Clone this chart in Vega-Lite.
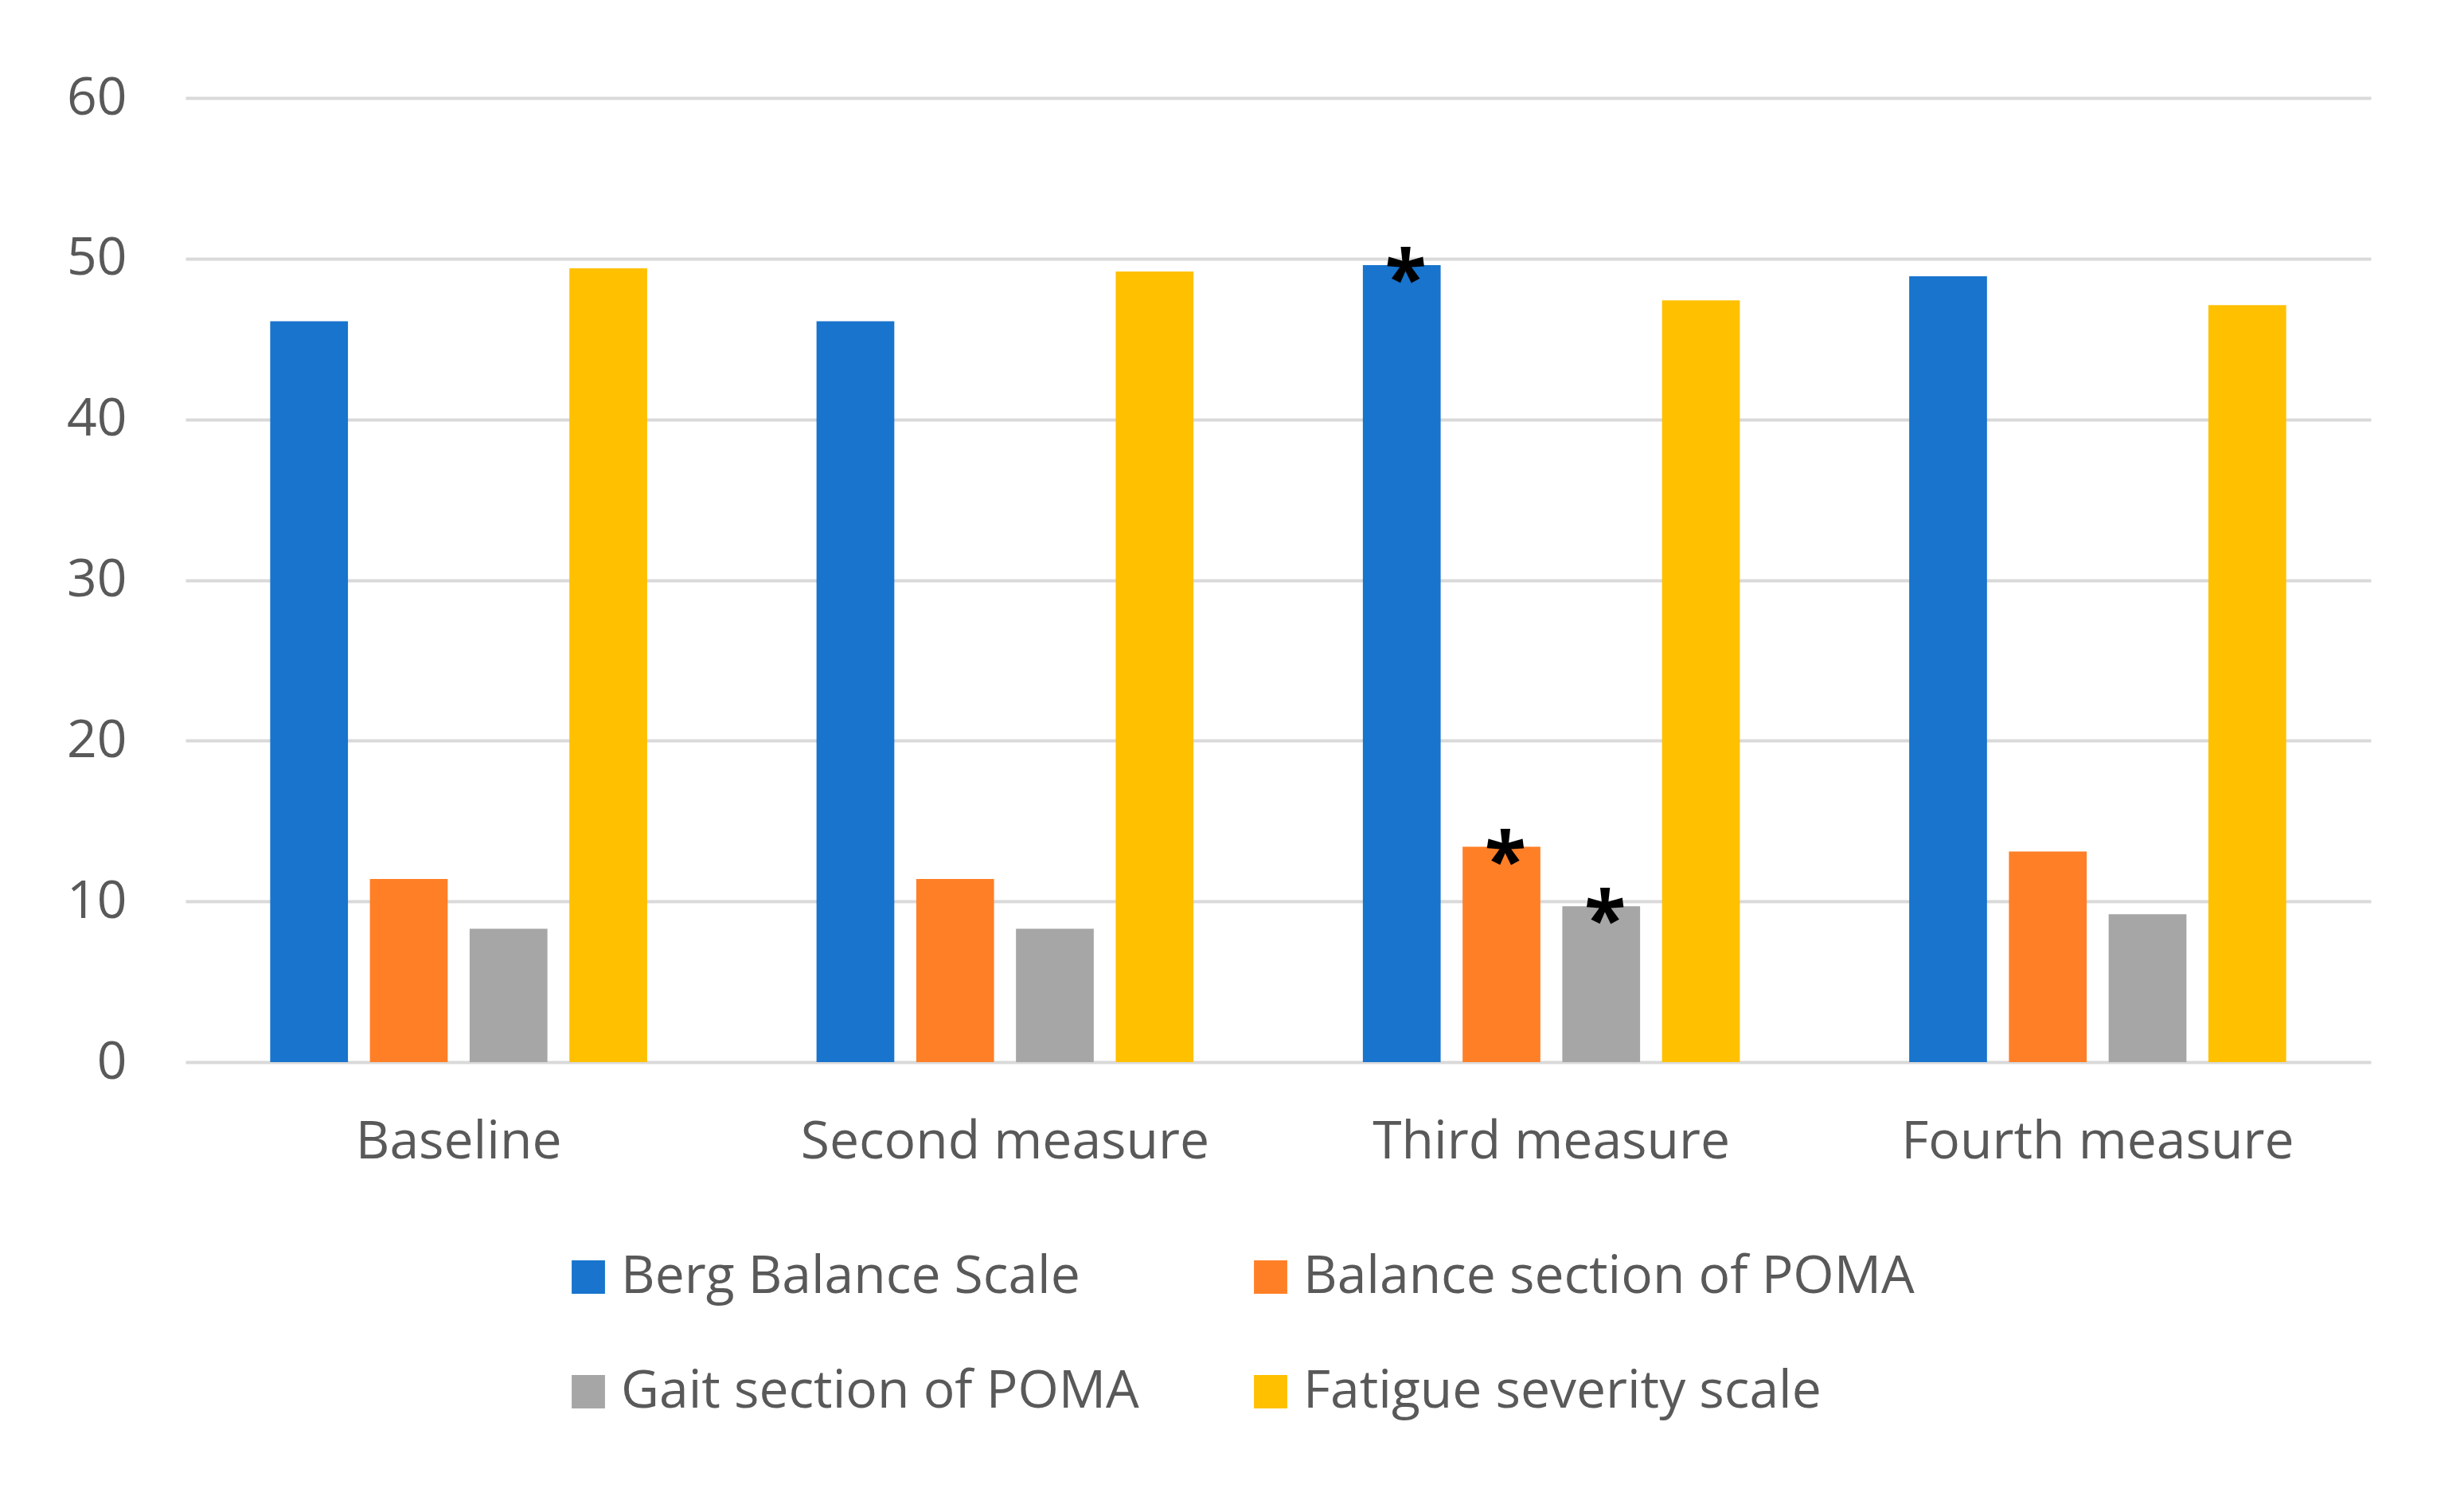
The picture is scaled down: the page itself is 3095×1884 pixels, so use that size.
{
  "$schema": "https://vega.github.io/schema/vega-lite/v6.json",
  "width": 2745,
  "height": 1211,
  "autosize": {"type": "none"},
  "padding": {"left": 233, "top": 123, "right": 117, "bottom": 550},
  "background": "white",
  "config": {"view": {"stroke": null}, "font": "Open Sans"},
  "data": {
    "values": [
      {"measure": "Baseline", "scale": "Berg Balance Scale", "value": 46.1, "sig": ""},
      {"measure": "Baseline", "scale": "Balance section of POMA", "value": 11.4, "sig": ""},
      {"measure": "Baseline", "scale": "Gait section of POMA", "value": 8.3, "sig": ""},
      {"measure": "Baseline", "scale": "Fatigue severity scale", "value": 49.4, "sig": ""},
      {"measure": "Second measure", "scale": "Berg Balance Scale", "value": 46.1, "sig": ""},
      {"measure": "Second measure", "scale": "Balance section of POMA", "value": 11.4, "sig": ""},
      {"measure": "Second measure", "scale": "Gait section of POMA", "value": 8.3, "sig": ""},
      {"measure": "Second measure", "scale": "Fatigue severity scale", "value": 49.2, "sig": ""},
      {"measure": "Third measure", "scale": "Berg Balance Scale", "value": 49.6, "sig": "*"},
      {"measure": "Third measure", "scale": "Balance section of POMA", "value": 13.4, "sig": "*"},
      {"measure": "Third measure", "scale": "Gait section of POMA", "value": 9.7, "sig": "*"},
      {"measure": "Third measure", "scale": "Fatigue severity scale", "value": 47.4, "sig": ""},
      {"measure": "Fourth measure", "scale": "Berg Balance Scale", "value": 48.9, "sig": ""},
      {"measure": "Fourth measure", "scale": "Balance section of POMA", "value": 13.1, "sig": ""},
      {"measure": "Fourth measure", "scale": "Gait section of POMA", "value": 9.2, "sig": ""},
      {"measure": "Fourth measure", "scale": "Fatigue severity scale", "value": 47.1, "sig": ""}
    ]
  },
  "encoding": {
    "x": {
      "field": "measure",
      "type": "nominal",
      "sort": ["Baseline", "Second measure", "Third measure", "Fourth measure"],
      "scale": {"paddingInner": 0.31, "paddingOuter": 0.155},
      "axis": {
        "title": null,
        "labelAngle": 0,
        "labelFontSize": 66,
        "labelColor": "#595959",
        "labelPadding": 68,
        "labelLimit": 1000,
        "ticks": false,
        "domain": false,
        "grid": false
      }
    },
    "xOffset": {
      "field": "scale",
      "type": "nominal",
      "sort": ["Berg Balance Scale", "Balance section of POMA", "Gait section of POMA", "Fatigue severity scale"],
      "scale": {"paddingInner": 0.22, "paddingOuter": 0}
    },
    "y": {
      "field": "value",
      "type": "quantitative",
      "scale": {"domain": [0, 60]},
      "axis": {
        "title": null,
        "values": [0, 10, 20, 30, 40, 50, 60],
        "labelFontSize": 66,
        "labelColor": "#595959",
        "labelPadding": 74,
        "ticks": false,
        "domain": false,
        "gridColor": "#D9D9D9",
        "gridWidth": 4
      }
    }
  },
  "layer": [
    {
      "mark": {"type": "bar"},
      "encoding": {
        "color": {
          "field": "scale",
          "type": "nominal",
          "scale": {
            "domain": ["Berg Balance Scale", "Balance section of POMA", "Gait section of POMA", "Fatigue severity scale"],
            "range": ["#1874CD", "#FF7F27", "#A6A6A6", "#FFC000"]
          },
          "legend": {
            "title": null,
            "orient": "none",
            "legendX": 473,
            "legendY": 1448,
            "columns": 2,
            "direction": "horizontal",
            "symbolType": "square",
            "symbolSize": 1750,
            "symbolStrokeWidth": 0,
            "labelFontSize": 66,
            "labelColor": "#595959",
            "labelOffset": 8,
            "columnPadding": 132,
            "rowPadding": 78,
            "labelLimit": 1200
          }
        }
      }
    },
    {
      "transform": [{"filter": "datum.sig == '*'"}],
      "mark": {"type": "text", "fontSize": 96, "fontWeight": "bold", "color": "black", "baseline": "middle", "dy": 22, "dx": 5},
      "encoding": {"text": {"field": "sig"}}
    }
  ]
}
